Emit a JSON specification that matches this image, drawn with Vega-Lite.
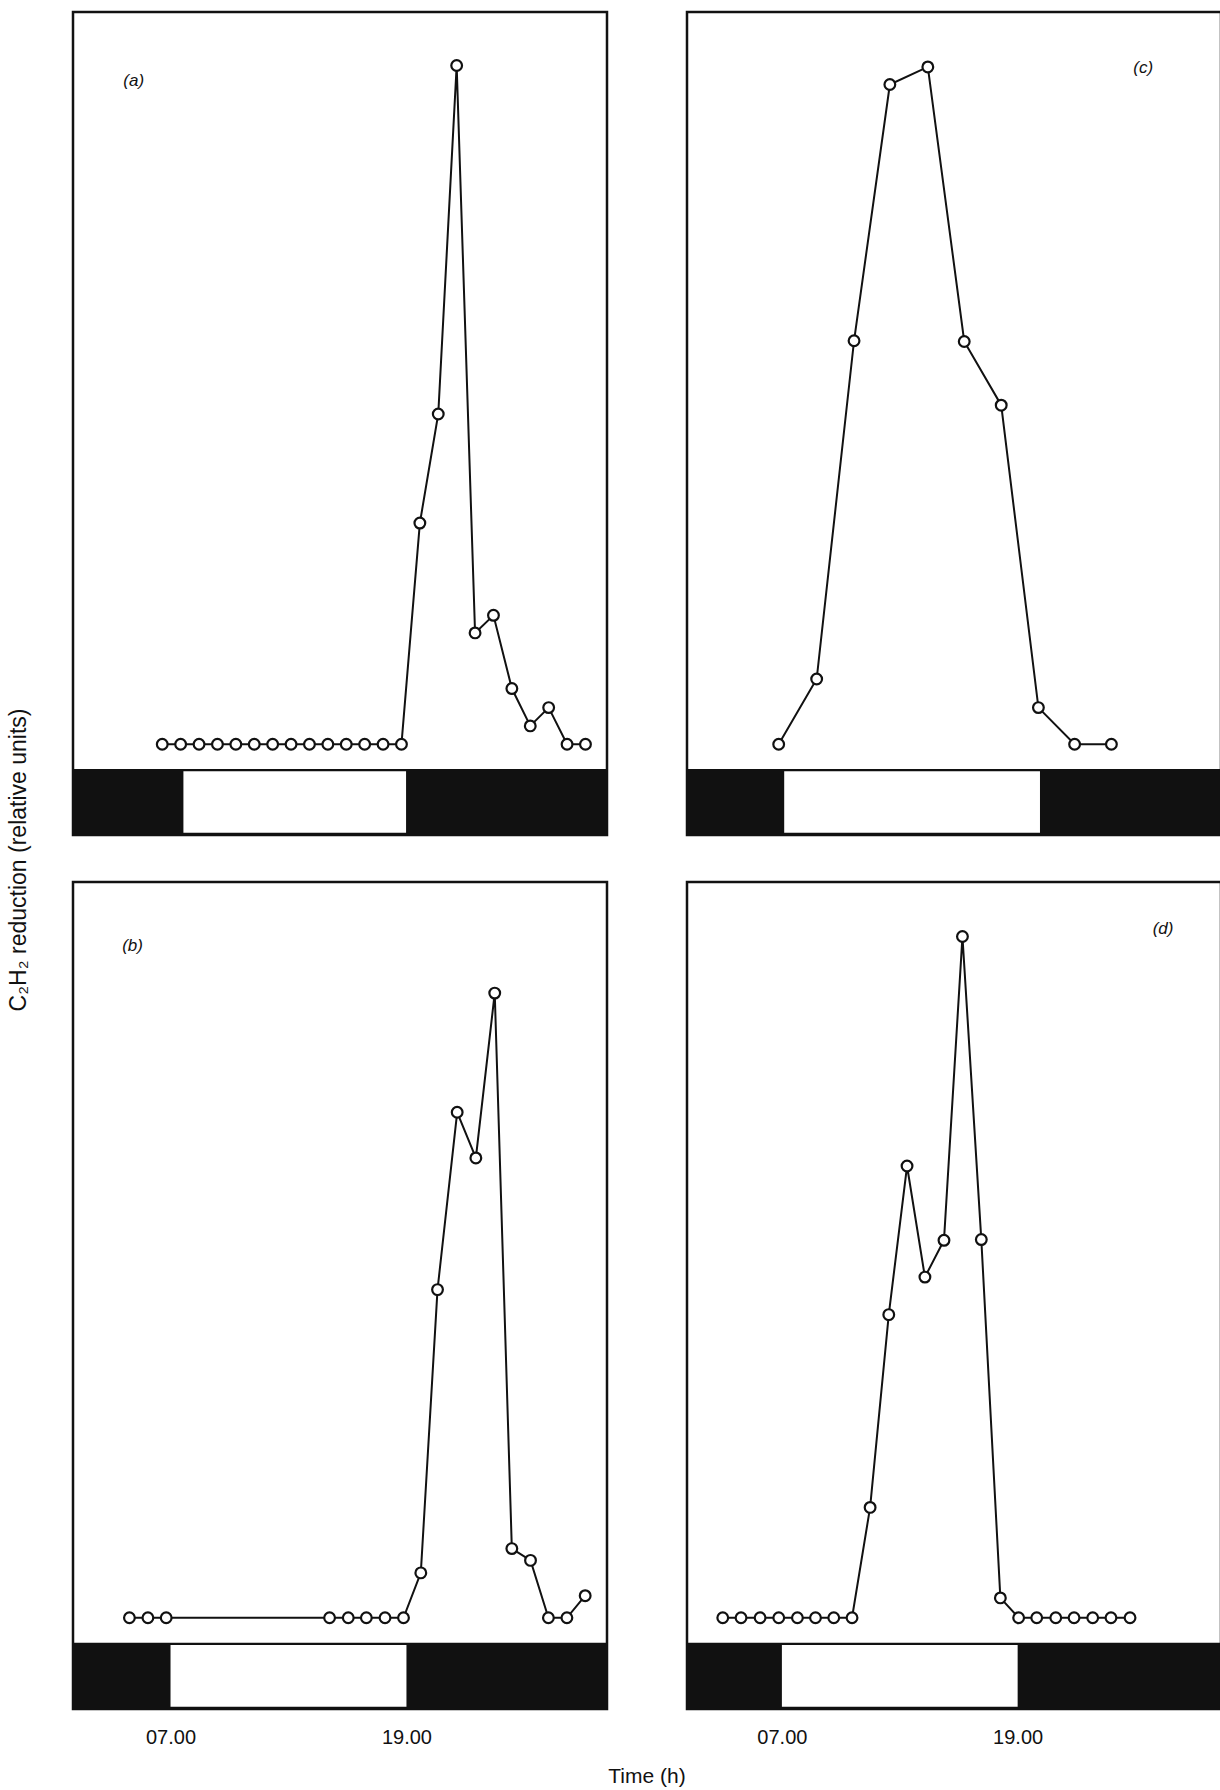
{
  "$schema": "https://vega.github.io/schema/vega-lite/v6.json",
  "background": "white",
  "padding": {"left": 7, "top": 10, "right": 0, "bottom": 0},
  "autosize": {"type": "pad"},
  "title": {"text": "C₂H₂ reduction (relative units)", "orient": "left", "anchor": "middle", "fontSize": 23, "font": "Liberation Sans", "fontWeight": "normal", "offset": 41, "dx": 39, "color": "#111"},
  "config": {
    "view": {"stroke": "#111", "strokeWidth": 2.5},
    "font": "Liberation Sans"
  },
  "datasets": {
    "a": [
      {"t": 6, "v": 0}, {"t": 7, "v": 0}, {"t": 8, "v": 0}, {"t": 9, "v": 0}, {"t": 10, "v": 0},
      {"t": 11, "v": 0}, {"t": 12, "v": 0}, {"t": 13, "v": 0}, {"t": 14, "v": 0}, {"t": 15, "v": 0},
      {"t": 16, "v": 0}, {"t": 17, "v": 0}, {"t": 18, "v": 0}, {"t": 19, "v": 0},
      {"t": 20, "v": 30.2}, {"t": 21, "v": 45.1}, {"t": 22, "v": 92.7}, {"t": 23, "v": 15.2},
      {"t": 24, "v": 17.6}, {"t": 25, "v": 7.6}, {"t": 26, "v": 2.5}, {"t": 27, "v": 5.0},
      {"t": 28, "v": 0}, {"t": 29, "v": 0}
    ],
    "b": [
      {"t": 4.91, "v": 0}, {"t": 5.85, "v": 0}, {"t": 6.78, "v": 0},
      {"t": 15.09, "v": 0}, {"t": 16.04, "v": 0}, {"t": 16.96, "v": 0}, {"t": 17.91, "v": 0}, {"t": 18.85, "v": 0},
      {"t": 19.73, "v": 6.1}, {"t": 20.58, "v": 44.6}, {"t": 21.58, "v": 68.7}, {"t": 22.53, "v": 62.5},
      {"t": 23.49, "v": 84.9}, {"t": 24.36, "v": 9.4}, {"t": 25.31, "v": 7.8}, {"t": 26.22, "v": 0},
      {"t": 27.16, "v": 0}, {"t": 28.09, "v": 3.0}
    ],
    "c": [
      {"t": 6.72, "v": 0}, {"t": 8.65, "v": 8.9}, {"t": 10.55, "v": 55.1}, {"t": 12.37, "v": 90.1},
      {"t": 14.30, "v": 92.5}, {"t": 16.15, "v": 55.0}, {"t": 18.03, "v": 46.3}, {"t": 19.92, "v": 5.0},
      {"t": 21.76, "v": 0}, {"t": 23.63, "v": 0}
    ],
    "d": [
      {"t": 3.99, "v": 0}, {"t": 4.92, "v": 0}, {"t": 5.89, "v": 0}, {"t": 6.84, "v": 0},
      {"t": 7.79, "v": 0}, {"t": 8.71, "v": 0}, {"t": 9.64, "v": 0}, {"t": 10.57, "v": 0},
      {"t": 11.49, "v": 15.0}, {"t": 12.44, "v": 41.2}, {"t": 13.37, "v": 61.4}, {"t": 14.28, "v": 46.3},
      {"t": 15.25, "v": 51.3}, {"t": 16.19, "v": 92.6}, {"t": 17.15, "v": 51.4}, {"t": 18.12, "v": 2.7},
      {"t": 19.05, "v": 0}, {"t": 19.97, "v": 0}, {"t": 20.94, "v": 0}, {"t": 21.87, "v": 0},
      {"t": 22.82, "v": 0}, {"t": 23.75, "v": 0}, {"t": 24.72, "v": 0}
    ]
  },
  "spacing": 43,
  "vconcat": [
    {
      "spacing": 76,
      "hconcat": [
        {
          "width": 534, "height": 823,
          "layer": [
            {"data": {"values": [{"start": 7.15, "end": 19.25}]},
             "mark": {"type": "rect", "color": "#111"},
             "encoding": {
               "x": {"datum": 1.15, "type": "quantitative", "scale": {"domain": [1.15, 30.17], "nice": false, "zero": false}, "axis": null, "title": null},
               "x2": {"datum": 30.17},
               "y": {"datum": -12.4, "type": "quantitative", "scale": {"domain": [-12.4, 100], "nice": false, "zero": false}, "axis": null, "title": null},
               "y2": {"datum": -3.4}}},
            {"data": {"values": [{"start": 7.15, "end": 19.25}]},
             "mark": {"type": "rect", "color": "white"},
             "encoding": {
               "x": {"field": "start", "type": "quantitative", "axis": null, "title": null},
               "x2": {"field": "end"},
               "y": {"datum": -12.1, "type": "quantitative", "axis": null, "title": null},
               "y2": {"datum": -3.7}}},
            {"data": {"name": "a"},
             "mark": {"type": "line", "color": "#111", "strokeWidth": 2},
             "encoding": {
               "x": {"field": "t", "type": "quantitative", "axis": null, "title": null},
               "y": {"field": "v", "type": "quantitative", "axis": null, "title": null}}},
            {"data": {"name": "a"},
             "mark": {"type": "point", "shape": "circle", "filled": true, "fill": "white", "stroke": "#111", "strokeWidth": 2.2, "size": 115, "opacity": 1},
             "encoding": {
               "x": {"field": "t", "type": "quantitative", "axis": null, "title": null},
               "y": {"field": "v", "type": "quantitative", "axis": null, "title": null}}},
            {"data": {"values": [{"label": "(a)"}]},
             "mark": {"type": "text", "fontStyle": "italic", "fontSize": 17, "color": "#111"},
             "encoding": {
               "x": {"datum": 4.45, "type": "quantitative", "axis": null, "title": null},
               "y": {"datum": 90.6, "type": "quantitative", "axis": null, "title": null},
               "text": {"field": "label"}}}
          ]
        },
        {
          "width": 534, "height": 823,
          "layer": [
            {"data": {"values": [{"start": 7, "end": 20}]},
             "mark": {"type": "rect", "color": "#111"},
             "encoding": {
               "x": {"datum": 2.06, "type": "quantitative", "scale": {"domain": [2.06, 29.2], "nice": false, "zero": false}, "axis": null, "title": null},
               "x2": {"datum": 29.2},
               "y": {"datum": -12.4, "type": "quantitative", "scale": {"domain": [-12.4, 100], "nice": false, "zero": false}, "axis": null, "title": null},
               "y2": {"datum": -3.4}}},
            {"data": {"values": [{"start": 7, "end": 20}]},
             "mark": {"type": "rect", "color": "white"},
             "encoding": {
               "x": {"field": "start", "type": "quantitative", "axis": null, "title": null},
               "x2": {"field": "end"},
               "y": {"datum": -12.1, "type": "quantitative", "axis": null, "title": null},
               "y2": {"datum": -3.7}}},
            {"data": {"name": "c"},
             "mark": {"type": "line", "color": "#111", "strokeWidth": 2},
             "encoding": {
               "x": {"field": "t", "type": "quantitative", "axis": null, "title": null},
               "y": {"field": "v", "type": "quantitative", "axis": null, "title": null}}},
            {"data": {"name": "c"},
             "mark": {"type": "point", "shape": "circle", "filled": true, "fill": "white", "stroke": "#111", "strokeWidth": 2.2, "size": 115, "opacity": 1},
             "encoding": {
               "x": {"field": "t", "type": "quantitative", "axis": null, "title": null},
               "y": {"field": "v", "type": "quantitative", "axis": null, "title": null}}},
            {"data": {"values": [{"label": "(c)"}]},
             "mark": {"type": "text", "fontStyle": "italic", "fontSize": 17, "color": "#111"},
             "encoding": {
               "x": {"datum": 25.25, "type": "quantitative", "axis": null, "title": null},
               "y": {"datum": 92.4, "type": "quantitative", "axis": null, "title": null},
               "text": {"field": "label"}}}
          ]
        }
      ]
    },
    {
      "spacing": 76,
      "title": {"text": "Time (h)", "orient": "bottom", "anchor": "middle", "fontSize": 21, "font": "Liberation Sans", "fontWeight": "normal", "offset": 18, "color": "#111"},
      "hconcat": [
        {
          "width": 534, "height": 827,
          "layer": [
            {"data": {"values": [{"start": 7, "end": 19}]},
             "mark": {"type": "rect", "color": "#111"},
             "encoding": {
               "x": {"datum": 2.04, "type": "quantitative", "scale": {"domain": [2.04, 29.2], "nice": false, "zero": false}, "title": null,
                     "axis": {"values": [7, 19], "format": "05.2f", "ticks": false, "domain": false, "grid": false, "labelFontSize": 20, "labelPadding": 18, "labelColor": "#111", "labelFont": "Liberation Sans", "title": null}},
               "x2": {"datum": 29.2},
               "y": {"datum": -12.4, "type": "quantitative", "scale": {"domain": [-12.4, 100], "nice": false, "zero": false}, "axis": null, "title": null},
               "y2": {"datum": -3.4}}},
            {"data": {"values": [{"start": 7, "end": 19}]},
             "mark": {"type": "rect", "color": "white"},
             "encoding": {
               "x": {"field": "start", "type": "quantitative", "title": null,
                     "axis": {"values": [7, 19], "format": "05.2f", "ticks": false, "domain": false, "grid": false, "labelFontSize": 20, "labelPadding": 18, "labelColor": "#111", "labelFont": "Liberation Sans", "title": null}},
               "x2": {"field": "end"},
               "y": {"datum": -12.1, "type": "quantitative", "axis": null, "title": null},
               "y2": {"datum": -3.7}}},
            {"data": {"name": "b"},
             "mark": {"type": "line", "color": "#111", "strokeWidth": 2},
             "encoding": {
               "x": {"field": "t", "type": "quantitative", "title": null,
                     "axis": {"values": [7, 19], "format": "05.2f", "ticks": false, "domain": false, "grid": false, "labelFontSize": 20, "labelPadding": 18, "labelColor": "#111", "labelFont": "Liberation Sans", "title": null}},
               "y": {"field": "v", "type": "quantitative", "axis": null, "title": null}}},
            {"data": {"name": "b"},
             "mark": {"type": "point", "shape": "circle", "filled": true, "fill": "white", "stroke": "#111", "strokeWidth": 2.2, "size": 115, "opacity": 1},
             "encoding": {
               "x": {"field": "t", "type": "quantitative", "title": null,
                     "axis": {"values": [7, 19], "format": "05.2f", "ticks": false, "domain": false, "grid": false, "labelFontSize": 20, "labelPadding": 18, "labelColor": "#111", "labelFont": "Liberation Sans", "title": null}},
               "y": {"field": "v", "type": "quantitative", "axis": null, "title": null}}},
            {"data": {"values": [{"label": "(b)"}]},
             "mark": {"type": "text", "fontStyle": "italic", "fontSize": 17, "color": "#111"},
             "encoding": {
               "x": {"datum": 5.07, "type": "quantitative", "title": null,
                     "axis": {"values": [7, 19], "format": "05.2f", "ticks": false, "domain": false, "grid": false, "labelFontSize": 20, "labelPadding": 18, "labelColor": "#111", "labelFont": "Liberation Sans", "title": null}},
               "y": {"datum": 91.3, "type": "quantitative", "axis": null, "title": null},
               "text": {"field": "label"}}}
          ]
        },
        {
          "width": 534, "height": 827,
          "layer": [
            {"data": {"values": [{"start": 7, "end": 19}]},
             "mark": {"type": "rect", "color": "#111"},
             "encoding": {
               "x": {"datum": 2.17, "type": "quantitative", "scale": {"domain": [2.17, 29.35], "nice": false, "zero": false}, "title": null,
                     "axis": {"values": [7, 19], "format": "05.2f", "ticks": false, "domain": false, "grid": false, "labelFontSize": 20, "labelPadding": 18, "labelColor": "#111", "labelFont": "Liberation Sans", "title": null}},
               "x2": {"datum": 29.35},
               "y": {"datum": -12.4, "type": "quantitative", "scale": {"domain": [-12.4, 100], "nice": false, "zero": false}, "axis": null, "title": null},
               "y2": {"datum": -3.4}}},
            {"data": {"values": [{"start": 7, "end": 19}]},
             "mark": {"type": "rect", "color": "white"},
             "encoding": {
               "x": {"field": "start", "type": "quantitative", "title": null,
                     "axis": {"values": [7, 19], "format": "05.2f", "ticks": false, "domain": false, "grid": false, "labelFontSize": 20, "labelPadding": 18, "labelColor": "#111", "labelFont": "Liberation Sans", "title": null}},
               "x2": {"field": "end"},
               "y": {"datum": -12.1, "type": "quantitative", "axis": null, "title": null},
               "y2": {"datum": -3.7}}},
            {"data": {"name": "d"},
             "mark": {"type": "line", "color": "#111", "strokeWidth": 2},
             "encoding": {
               "x": {"field": "t", "type": "quantitative", "title": null,
                     "axis": {"values": [7, 19], "format": "05.2f", "ticks": false, "domain": false, "grid": false, "labelFontSize": 20, "labelPadding": 18, "labelColor": "#111", "labelFont": "Liberation Sans", "title": null}},
               "y": {"field": "v", "type": "quantitative", "axis": null, "title": null}}},
            {"data": {"name": "d"},
             "mark": {"type": "point", "shape": "circle", "filled": true, "fill": "white", "stroke": "#111", "strokeWidth": 2.2, "size": 115, "opacity": 1},
             "encoding": {
               "x": {"field": "t", "type": "quantitative", "title": null,
                     "axis": {"values": [7, 19], "format": "05.2f", "ticks": false, "domain": false, "grid": false, "labelFontSize": 20, "labelPadding": 18, "labelColor": "#111", "labelFont": "Liberation Sans", "title": null}},
               "y": {"field": "v", "type": "quantitative", "axis": null, "title": null}}},
            {"data": {"values": [{"label": "(d)"}]},
             "mark": {"type": "text", "fontStyle": "italic", "fontSize": 17, "color": "#111"},
             "encoding": {
               "x": {"datum": 26.4, "type": "quantitative", "title": null,
                     "axis": {"values": [7, 19], "format": "05.2f", "ticks": false, "domain": false, "grid": false, "labelFontSize": 20, "labelPadding": 18, "labelColor": "#111", "labelFont": "Liberation Sans", "title": null}},
               "y": {"datum": 93.6, "type": "quantitative", "axis": null, "title": null},
               "text": {"field": "label"}}}
          ]
        }
      ]
    }
  ]
}
